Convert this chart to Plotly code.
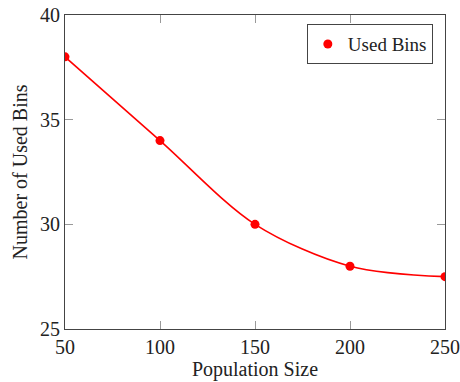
import plotly.graph_objects as go

population = [50, 100, 150, 200, 250]
used_bins = [38, 34, 30, 28, 27.5]
x_ticks = [50, 100, 150, 200, 250]
y_ticks = [25, 30, 35, 40]

FONT = "Liberation Serif"
RED = "#ff0000"
FS = 20

fig = go.Figure()
fig.add_trace(go.Scatter(
    x=population, y=used_bins, mode="lines", showlegend=False,
    line=dict(color=RED, width=1.6, shape="spline", smoothing=0.9),
    hoverinfo="skip",
))
fig.add_trace(go.Scatter(
    x=population, y=used_bins, mode="markers", name="Used Bins",
    marker=dict(color=RED, size=9),
))

axis_common = dict(
    showgrid=False, zeroline=False, showline=True, linecolor="#444444", linewidth=1.2,
    mirror="ticks", ticks="inside", ticklen=8, tickcolor="#999999", tickwidth=1,
    tickfont=dict(family=FONT, size=FS, color="#222222"), automargin=False,
)

fig.update_layout(
    width=460, height=382,
    margin=dict(l=65, r=15, t=15, b=53),
    paper_bgcolor="white", plot_bgcolor="white",
    font=dict(family=FONT, size=FS, color="#222222"),
    xaxis=dict(range=[50, 250], tickvals=x_ticks,
               title=dict(text="Population Size", font=dict(family=FONT, size=FS), standoff=2),
               **axis_common),
    yaxis=dict(range=[25, 40], tickvals=y_ticks,
               title=dict(text="Number of Used Bins", font=dict(family=FONT, size=FS), standoff=6),
               **axis_common),
    legend=dict(x=0.968, y=0.971, xanchor="right", yanchor="top",
                bordercolor="#444444", borderwidth=1, bgcolor="white",
                font=dict(family=FONT, size=19), itemwidth=30,
                tracegroupgap=0),
    showlegend=True,
)

fig.write_html("out.html", config={"displayModeBar": False},
               post_script="document.body.style.margin='0px';document.body.style.padding='0px';")
